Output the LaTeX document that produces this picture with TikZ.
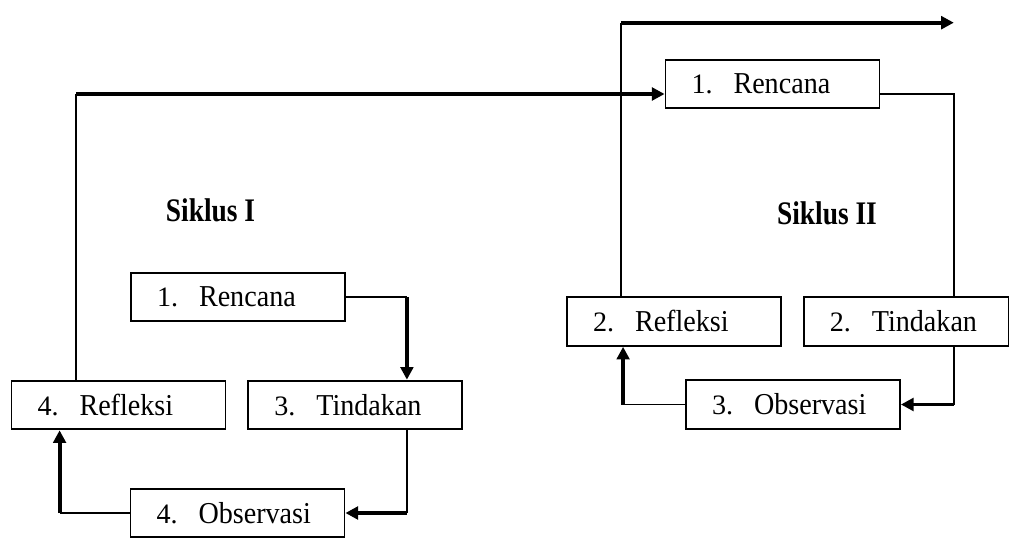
\documentclass[tikz,border=0pt]{standalone}
\usepackage{fontspec}
\setmainfont{Liberation Serif}
\usepackage{tikz}
\usetikzlibrary{arrows.meta, positioning}

\newcommand{\tahap}[2]{\makebox[1.05cm][l]{#1}\scalebox{1}[1.08]{#2}}

\begin{document}
\begin{tikzpicture}[
    font=\fontsize{20}{24}\selectfont,
    box/.style   ={draw, line width=1.3pt, text width=#1, inner xsep=0.65cm,
                   minimum height=1.22cm, align=left},
    box/.default =4.05cm,
    label/.style ={font=\fontsize{19.5}{23}\selectfont\bfseries},
    line/.style  ={line width=1.3pt},
    arrow/.style ={-{Triangle[length=9pt, width=9pt]}, line width=2.8pt},
]
\useasboundingbox (0,0) rectangle (25.225,-13.45);

% ── Siklus I ───────────────────────────────────────────────────────────
\node[box]                       (ren1) at (5.95,-7.425)    {\tahap{1.}{Rencana}};
\node[box]                       (ref1) at (2.9625,-10.125) {\tahap{4.}{Refleksi}};
\node[box, right=0.525cm of ref1] (tin1)                     {\tahap{3.}{Tindakan}};
\node[box]                       (obs1) at (5.9375,-12.825) {\tahap{4.}{Observasi}};
\node[label] (sik1) at (5.2625,-5.25) {\scalebox{1}[1.2]{Siklus I}};

% ── Siklus II ──────────────────────────────────────────────────────────
\node[box]                       (ren2) at (19.3125,-2.1)   {\tahap{1.}{Rencana}};
\node[box]                       (ref2) at (16.85,-8.0375)  {\tahap{2.}{Refleksi}};
\node[box=3.825cm, right=0.525cm of ref2] (tin2)            {\tahap{2.}{Tindakan}};
\node[box]                       (obs2) at (19.825,-10.1125) {\tahap{3.}{Observasi}};
\node[label] (sik2) at (20.675,-5.325) {\scalebox{1}[1.2]{Siklus II}};

% ── Bend points ────────────────────────────────────────────────────────
\coordinate (c1)  at ([xshift=1.525cm]ren1.east);
\coordinate (c3)  at ([xshift=-1.75cm]obs1.west);
\coordinate (c4)  at ([xshift=-1.0625cm]ref1.north);
\coordinate (r2w) at ([yshift=-0.25cm]ren2.west);
\coordinate (r2e) at ([yshift=-0.25cm]ren2.east);
\coordinate (c6)  at ([xshift=1.1875cm]tin2.north);
\coordinate (c8)  at ([xshift=-1.55cm]obs2.west);
\coordinate (c9)  at ([xshift=-1.325cm]ref2.north);
\coordinate (top) at ([yshift=0.9cm]ren2.north);
\coordinate (out) at (c6 |- top);

% ── Arrows, Siklus I ───────────────────────────────────────────────────
\draw[line]  (ren1.east) -- (c1);
\draw[arrow] (c1) -- (c1 |- tin1.north);
\draw[line]  (c1 |- tin1.south) -- (c1 |- obs1.east);
\draw[arrow] (c1 |- obs1.east) -- (obs1.east);
\draw[line]  (obs1.west) -- (c3);
\draw[arrow] (c3) -- (c3 |- ref1.south);
\draw[line]  (c4) -- (c4 |- r2w);
\draw[arrow] (c4 |- r2w) -- (r2w);

% ── Arrows, Siklus II ──────────────────────────────────────────────────
\draw[line]  (r2e) -| (c6);
\draw[line]  (c6 |- tin2.south) -- (c6 |- obs2.east);
\draw[arrow] (c6 |- obs2.east) -- (obs2.east);
\draw[line]  (obs2.west) -- (c8);
\draw[arrow] (c8) -- (c8 |- ref2.south);
\draw[line]  (c9) -- (c9 |- top);
\draw[arrow] (c9 |- top) -- (out);

\end{tikzpicture}
\end{document}
